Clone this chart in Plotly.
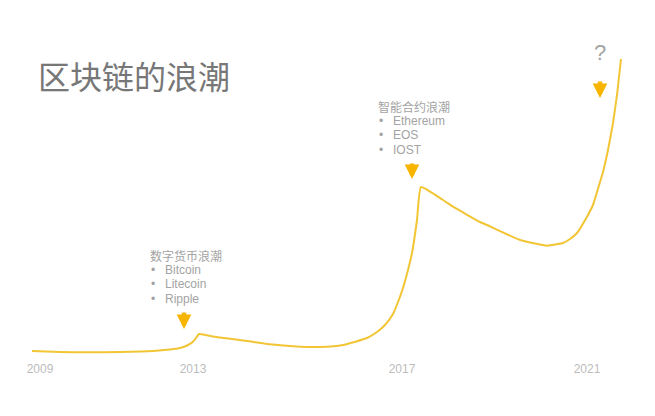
import plotly.graph_objects as go

# Curve trace (x in slide units, y = wave height)
curve_x = [32, 60, 87, 120, 153, 170, 180, 188, 193, 196, 199, 207, 220, 240, 267, 300, 320,
           343, 367, 377, 385, 393, 398, 403, 408, 412, 417, 421, 443, 453, 480, 487, 520, 547,
           563, 570, 577, 587, 593, 597, 603, 608, 613, 617, 621]
curve_y = [9, 8, 7.7, 8, 9, 10.5, 12, 15, 18.3, 22, 26, 24.7, 22.5, 20, 16, 13.3, 13,
           15, 22, 28, 35, 46, 58, 72, 90, 107, 140, 173, 160, 153.3, 138, 135, 120, 114.3,
           117, 121, 127, 143.3, 155, 168, 188, 210, 237, 265, 301]

tick_pos = [40, 193, 402, 587]
tick_labels = ["2009", "2013", "2017", "2021"]

title_text = "区块链的浪潮"
wave1_title = "数字货币浪潮"
wave1_items = ["Bitcoin", "Litecoin", "Ripple"]
wave2_title = "智能合约浪潮"
wave2_items = ["Ethereum", "EOS", "IOST"]

H = 360  # plot-area height in px (y = H - pixel row)

fig = go.Figure()
fig.add_trace(go.Scatter(x=curve_x, y=curve_y, mode="lines",
                         line=dict(color="#F2C535", width=2, shape="spline", smoothing=0.4),
                         hoverinfo="skip"))

font_cjk = "Noto Sans CJK SC, Noto Sans, sans-serif"
font_lat = "Liberation Sans, Noto Sans CJK SC, sans-serif"
ann = []
ann.append(dict(x=36, y=H - 75, text=title_text, xanchor="left", yanchor="middle",
                showarrow=False, font=dict(size=32, color="#777777", family=font_cjk)))


def add_block(x0, y_title, title, items):
    ann.append(dict(x=x0, y=H - y_title, text=title, xanchor="left", yanchor="middle",
                    showarrow=False, font=dict(size=12, color="#a3a3a3", family=font_cjk)))
    for i, it in enumerate(items):
        yy = H - (y_title + 14.5 * (i + 1))
        ann.append(dict(x=x0 + 1, y=yy, text="•", xanchor="left", yanchor="middle",
                        showarrow=False, font=dict(size=12, color="#a3a3a3", family=font_lat)))
        ann.append(dict(x=x0 + 15, y=yy, text=it, xanchor="left", yanchor="middle",
                        showarrow=False, font=dict(size=12, color="#a3a3a3", family=font_lat)))


add_block(148, 255, wave1_title, wave1_items)
add_block(376, 106, wave2_title, wave2_items)

ann.append(dict(x=600, y=H - 52, text="?", xanchor="center", yanchor="middle",
                showarrow=False, font=dict(size=22, color="#a3a3a3", family=font_lat)))

for (ax_, top, bot) in [(184, 311, 329), (412, 162, 179), (600, 80, 98)]:
    ann.append(dict(x=ax_, y=H - bot, ax=ax_, ay=H - top, axref="x", ayref="y",
                    xref="x", yref="y", text="", showarrow=True, arrowhead=2,
                    arrowsize=0.65, arrowwidth=4.5, arrowcolor="#F7B500"))

fig.update_layout(
    width=655, height=416,
    margin=dict(l=0, r=0, t=0, b=56),
    paper_bgcolor="white", plot_bgcolor="white",
    showlegend=False,
    annotations=ann,
    xaxis=dict(range=[0, 655], showgrid=False, zeroline=False, showline=False,
               tickmode="array", tickvals=tick_pos, ticktext=tick_labels,
               ticks="", tickfont=dict(size=12, color="#bcbcbc", family=font_lat),
               fixedrange=True),
    yaxis=dict(range=[0, H], showgrid=False, zeroline=False, showline=False,
               showticklabels=False, fixedrange=True),
)

fig.write_html("out.html", config={"displayModeBar": False},
               post_script="document.body.style.margin='0';")
